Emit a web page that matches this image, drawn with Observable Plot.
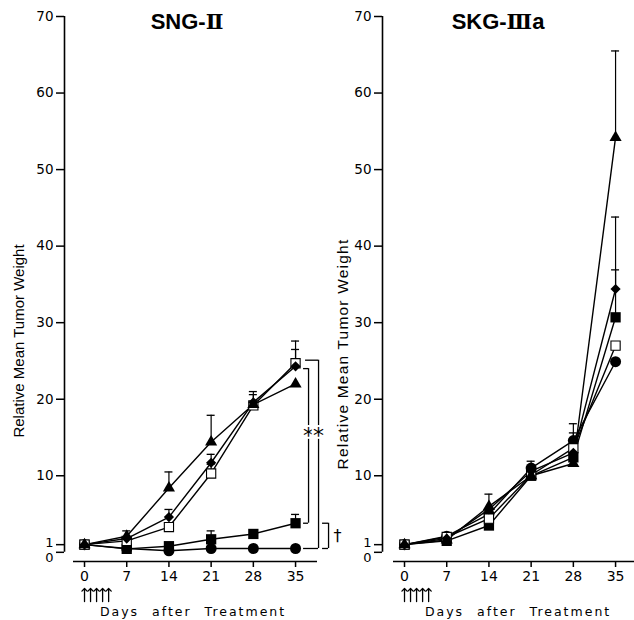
<!DOCTYPE html>
<html><head><meta charset="utf-8">
<script src="https://cdn.jsdelivr.net/npm/d3@7"></script>
<script src="https://cdn.jsdelivr.net/npm/@observablehq/plot@0.6"></script>
<style>
body{margin:0;background:#fff;}
#wrap{position:relative;width:634px;height:620px;overflow:hidden;background:#fff;}
#left{position:absolute;left:0;top:0;}
#right{position:absolute;left:328px;top:0;}
svg{overflow:visible;}
</style></head><body><div id="wrap"><div id="left"></div><div id="right"></div></div>
<script>
// ---- data ----
const days = [0, 7, 14, 21, 28, 35];
const yTicks = [10, 20, 30, 40, 50, 60, 70];
const treatmentDays = [0, 1, 2, 3, 4];
const titleStems = ["SNG-", "SKG-"];
const titleNumerals = ["Ⅱ", "Ⅲ"];
const titleSuffixes = ["", "a"];
const yTitle = "Relative Mean Tumor Weight";
const xTitle = "Days after Treatment";

// SNG-II (left)
const sngTriangle     = [1, 2.1, 8.4, 14.4, 19.3, 22.0];
const sngTriangleErr  = [null, 2.8, 10.5, 17.9, 20.6, null];
const sngDiamond      = [1, 1.8, 4.6, 11.7, 19.6, 24.3];
const sngDiamondErr   = [null, null, 5.6, 12.8, 21.0, 27.6];
const sngOpenSq       = [1, 1.5, 3.3, 10.3, 19.2, 24.7];
const sngOpenSqErr    = [null, null, null, 11.5, null, 26.5];
const sngFilledSq     = [1, 0.45, 0.8, 1.7, 2.4, 3.8];
const sngFilledSqErr  = [null, null, null, 2.8, null, 4.95];
const sngCircle       = [1, 0.5, 0.2, 0.5, 0.5, 0.5];
const sngCircleErr    = [null, null, null, null, null, null];
// significance brackets (SNG-II, day 35)
const sigBrackets = [{top: 24.0, bottom: 3.8}, {top: 25.1, bottom: 0.5}];
const starLevel = [16];
const daggerBracket = [{top: 3.8, bottom: 0.5}];

// SKG-IIIa (right)
const skgTriangle     = [1, 1.6, 6.0, 10.0, 11.6, 54.2];
const skgTriangleErr  = [null, null, 7.6, null, null, 65.5];
const skgDiamond      = [1, 1.8, 5.6, 10.6, 13.0, 34.4];
const skgDiamondErr   = [null, null, null, null, null, 43.8];
const skgOpenSq       = [1, 2.0, 4.4, 10.1, 13.6, 27.0];
const skgOpenSqErr    = [null, null, null, null, 15.6, null];
const skgFilledSq     = [1, 1.5, 3.5, 10.0, 12.4, 30.7];
const skgFilledSqErr  = [null, null, null, null, null, 36.9];
const skgCircle       = [1, 2.1, 5.0, 11.0, 14.6, 24.9];
const skgCircleErr    = [null, null, null, 11.9, 16.8, null];

// ---- helpers ----
const symbolStyle = {
  triangle: {symbol: "triangle", r: 4.5, fill: "black"},
  diamond: {symbol: "diamond2", r: 4.6, fill: "black"},
  openSq: {symbol: "square", r: 5.2, fill: "white", stroke: "black", strokeWidth: 1.1},
  filledSq: {symbol: "square", r: 5.8, fill: "black"},
  circle: {symbol: "circle", r: 5.5, fill: "black"}
};
function rows(series, values, errs) {
  return days.map((d, i) => ({series, day: d, value: values[i], err: errs[i]}));
}
const Y_MIN = -1.2, Y_MAX = 70;
const SANS = "'Liberation Sans', Arial, sans-serif";
const TICKF = "'DejaVu Sans', sans-serif";
const midDay = (days[0] + days[days.length - 1]) / 2;

function panel({idx, series, width, marginLeft, marginRight, xDomain, axisInset, titleDx, xTitleDx, yTitleX, yTitleDy, yTitleSize, yTitleSpacing, extra}) {
  const all = series.flat();
  const withErr = all.filter(d => d.err != null);
  const order = ["circle", "filledSq", "openSq", "diamond", "triangle"];
  const frameCenterX = marginLeft + (width - marginLeft - marginRight) / 2;
  const svg = Plot.plot({
    width, height: 620,
    marginTop: 16, marginBottom: 59, marginLeft, marginRight,
    x: {domain: xDomain, axis: null},
    y: {domain: [Y_MIN, Y_MAX], axis: null},
    style: {background: "transparent", color: "black", fontFamily: TICKF, fontSize: "13px"},
    marks: [
      // axes
      Plot.ruleX([xDomain[0]], {y1: 0, y2: Y_MAX, strokeWidth: 1.6}),
      Plot.axisY({ticks: yTicks, tickSize: 8, tickPadding: 3, fontSize: 13.5, fontFamily: TICKF, strokeWidth: 1.5, label: null}),
      Plot.axisY({ticks: [1, 0], tickSize: 8, tickFormat: () => "", strokeWidth: 1.5, label: null}),
      Plot.axisY({ticks: [1], tickSize: 0, tickPadding: 11, dy: -1.5, fontSize: 13, fontFamily: TICKF, label: null}),
      Plot.axisY({ticks: [0], tickSize: 0, tickPadding: 11, dy: 5.5, fontSize: 13, fontFamily: TICKF, label: null}),
      Plot.ruleY([Y_MIN], {insetLeft: axisInset, strokeWidth: 1.6}),
      Plot.axisX({ticks: days, tickSize: 6, tickPadding: 4, fontSize: 14, fontFamily: TICKF, strokeWidth: 1.5, label: null}),
      // treatment arrows
      Plot.vector(treatmentDays, {x: d => d, frameAnchor: "bottom", dy: 40, length: 13, rotate: 0, anchor: "start", strokeWidth: 1.3, stroke: "black"}),
      Plot.text([xTitle], {x: () => midDay, frameAnchor: "bottom", dy: 54, dx: xTitleDx, fontSize: 12.5, fontFamily: TICKF}),
      Plot.text([yTitle], {frameAnchor: "middle", dx: yTitleX - frameCenterX, dy: yTitleDy, rotate: -90, fontSize: yTitleSize, fontFamily: SANS}),
      Plot.text([titleStems[idx] + titleNumerals[idx] + titleSuffixes[idx]], {x: () => midDay, frameAnchor: "top", lineAnchor: "top", dy: -3, dx: titleDx, fontSize: 22, fontWeight: "bold", fontFamily: SANS}),
      // data
      Plot.line(all, {x: "day", y: "value", z: "series", stroke: "black", strokeWidth: 1.4}),
      Plot.ruleX(withErr, {x: "day", y1: "value", y2: "err", strokeWidth: 1.2}),
      Plot.ruleY(withErr, {y: "err", x1: "day", x2: "day", insetLeft: -4, insetRight: -4, strokeWidth: 1.3}),
      ...order.map(s => Plot.dot(all.filter(d => d.series === s), {x: "day", y: "value", ...symbolStyle[s]})),
      ...(extra || [])
    ]
  });
  // text styling: title numeral in a serif face, spaced axis titles
  d3.select(svg).selectAll("text").each(function () {
    const t = this.textContent;
    if (t === titleStems[idx] + titleNumerals[idx] + titleSuffixes[idx]) {
      const el = d3.select(this); el.text(null);
      el.append("tspan").text(titleStems[idx]);
      el.append("tspan").attr("font-family", "'DejaVu Serif', serif").attr("font-weight", "bold").attr("font-size", 21).text(titleNumerals[idx]);
      if (titleSuffixes[idx]) el.append("tspan").text(titleSuffixes[idx]);
    } else if (t === xTitle) {
      d3.select(this).style("letter-spacing", "2px").style("word-spacing", "7px");
    } else if (t === yTitle) {
      d3.select(this).style("letter-spacing", yTitleSpacing + "px");
    }
  });
  return svg;
}

const lastDay = days[days.length - 1];
function hseg(data, key, from, to) {
  return Plot.ruleY(data, {y: key, x1: lastDay, x2: lastDay, dx: from, insetRight: -(to - from), strokeWidth: 1.3});
}
const starStyle = {x: lastDay, y: d => d, text: () => "*", dy: 6, fontSize: 22, fontFamily: TICKF, stroke: "white", strokeWidth: 4, fill: "black"};
const leftExtra = [
  // inner ** bracket
  Plot.ruleX([sigBrackets[0]], {x: lastDay, y1: "top", y2: "bottom", dx: 13, strokeWidth: 1.3}),
  hseg([sigBrackets[0]], "top", 8, 13),
  hseg([sigBrackets[0]], "bottom", 8, 13),
  // outer ** bracket
  Plot.ruleX([sigBrackets[1]], {x: lastDay, y1: "top", y2: "bottom", dx: 23, strokeWidth: 1.3}),
  hseg([sigBrackets[1]], "top", 10, 23),
  hseg([sigBrackets[1]], "bottom", 8, 23),
  Plot.text(starLevel, {...starStyle, dx: 13}),
  Plot.text(starLevel, {...starStyle, dx: 23}),
  // dagger bracket
  Plot.ruleX(daggerBracket, {x: lastDay, y1: "top", y2: "bottom", dx: 33, strokeWidth: 1.3}),
  hseg(daggerBracket, "top", 27, 33),
  hseg(daggerBracket, "bottom", 27, 33),
  Plot.text(daggerBracket, {x: lastDay, y: d => (d.top + d.bottom) / 2, text: () => "†", dx: 42, fontSize: 16, fontFamily: TICKF})
];

const left = panel({
  idx: 0,
  series: [rows("triangle", sngTriangle, sngTriangleErr), rows("diamond", sngDiamond, sngDiamondErr),
           rows("openSq", sngOpenSq, sngOpenSqErr), rows("filledSq", sngFilledSq, sngFilledSqErr),
           rows("circle", sngCircle, sngCircleErr)],
  width: 340, marginLeft: 64, marginRight: 23, xDomain: [-3.32, 38.64], axisInset: 9,
  titleDx: -3, xTitleDx: 3, yTitleX: 19, yTitleDy: 52, yTitleSize: 15, yTitleSpacing: 0, extra: leftExtra
});
const right = panel({
  idx: 1,
  series: [rows("triangle", skgTriangle, skgTriangleErr), rows("diamond", skgDiamond, skgDiamondErr),
           rows("openSq", skgOpenSq, skgOpenSqErr), rows("filledSq", skgFilledSq, skgFilledSqErr),
           rows("circle", skgCircle, skgCircleErr)],
  width: 306, marginLeft: 54, marginRight: 0, xDomain: [-3.65, 38.14], axisInset: 11,
  titleDx: -12, xTitleDx: 8, yTitleX: 15, yTitleDy: 65, yTitleSize: 15.5, yTitleSpacing: 1.2, extra: []
});
document.getElementById("left").append(left);
document.getElementById("right").append(right);
</script></body></html>
